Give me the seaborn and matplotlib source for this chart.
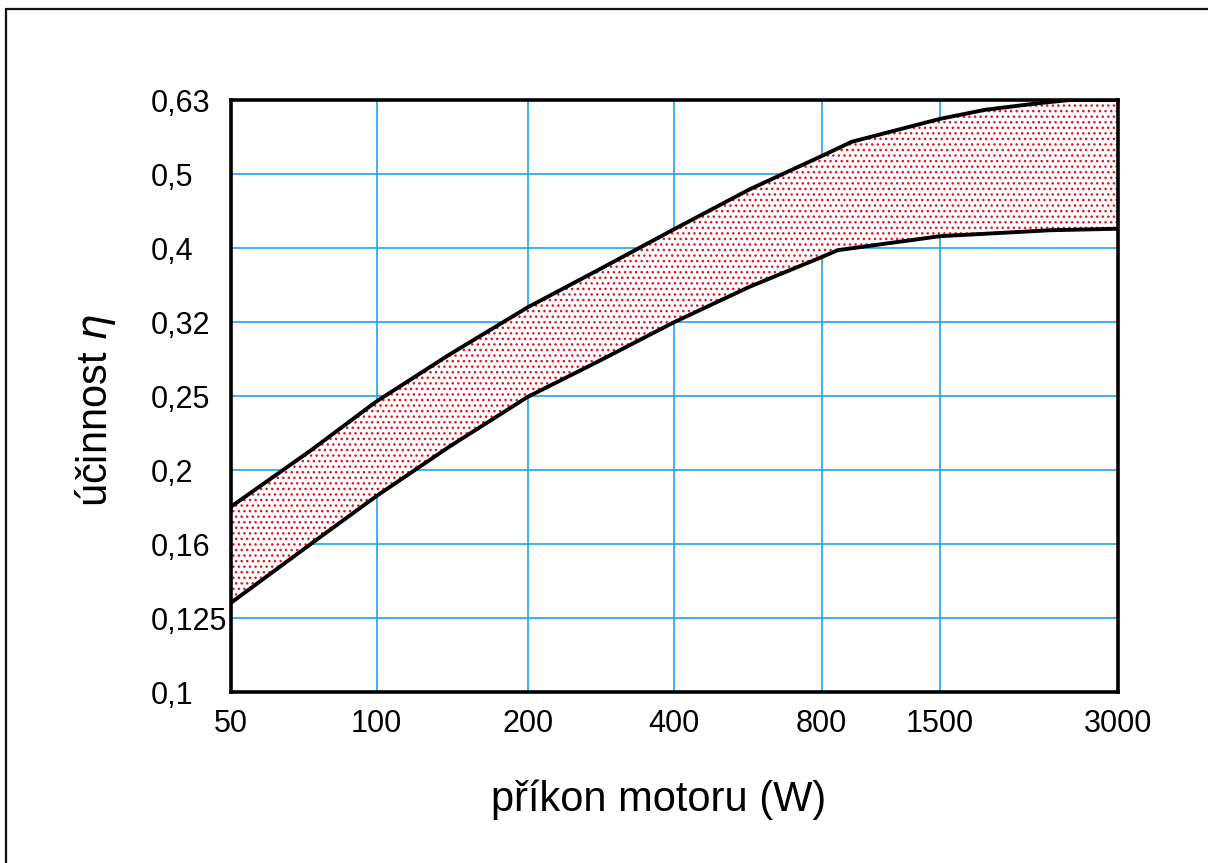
import numpy as np
import matplotlib
matplotlib.use("Agg")
import matplotlib.pyplot as plt
import seaborn as sns
from matplotlib.lines import Line2D
from matplotlib.ticker import NullLocator, NullFormatter

# ---- data ----
x_ticks = [50, 100, 200, 400, 800, 1500, 3000]
x_labels = ["50", "100", "200", "400", "800", "1500", "3000"]
y_labels = ["0,1", "0,125", "0,16", "0,2", "0,25", "0,32", "0,4", "0,5", "0,63"]

upper_w = [50, 73.6, 100, 140, 200, 282, 400, 571, 800, 938, 1500, 1788, 2214, 2487, 3000]
upper_eta = [0.178, 0.2127, 0.247, 0.286, 0.331, 0.373, 0.422, 0.478, 0.530, 0.554,
             0.595, 0.612, 0.625, 0.631, 0.631]
lower_w = [50, 73.6, 100, 140, 200, 282, 400, 571, 800, 871, 1500, 2302, 3000]
lower_eta = [0.132, 0.159, 0.184, 0.2148, 0.2505, 0.2806, 0.316, 0.353, 0.387, 0.3954,
             0.413, 0.4207, 0.4227]

# ---- style ----
sns.set_style("white")
plt.rcParams["font.family"] = ["Liberation Sans", "DejaVu Sans"]
plt.rcParams["mathtext.fontset"] = "dejavusans"
plt.rcParams["hatch.color"] = "#e8101c"
plt.rcParams["hatch.linewidth"] = 1.0
plt.rcParams["text.color"] = "black"
plt.rcParams["xtick.color"] = "black"
plt.rcParams["ytick.color"] = "black"

W, H = 1208, 863
fig = plt.figure(figsize=(W / 100, H / 100), dpi=100)
ax = fig.add_axes([231 / W, 1 - 692 / H, (1118 - 231) / W, (692 - 100) / H])

# non-uniform (hand drawn) x axis: piecewise log mapping of tick values to positions
tick_px = np.array([231, 376.5, 527.7, 674, 821.7, 940, 1118]) - 231
log_t = np.log(np.array(x_ticks, dtype=float))


def fwd(x):
    x = np.asarray(x, dtype=float)
    return np.interp(np.log(np.clip(x, 1e-9, None)), log_t, tick_px)


def inv(p):
    p = np.asarray(p, dtype=float)
    return np.exp(np.interp(p, tick_px, log_t))


ax.set_xscale("function", functions=(fwd, inv))
ax.set_yscale("log")
ax.set_xlim(50, 3000)
ax.set_ylim(0.1, 10 ** -0.2)

# band fill (stippled)
uw, ue = np.array(upper_w), np.array(upper_eta)
lw_, le = np.array(lower_w), np.array(lower_eta)
ax.fill(np.r_[uw, lw_[::-1]], np.r_[ue, le[::-1]], facecolor="white",
        edgecolor="#e8101c", hatch="...", linewidth=0, zorder=2)

sns.lineplot(x=uw, y=ue, ax=ax, color="black", linewidth=2.8, zorder=3)
sns.lineplot(x=lw_, y=le, ax=ax, color="black", linewidth=2.8, zorder=3)

# ticks
y_pos = 10 ** (np.arange(len(y_labels)) / 10 - 1)
ax.set_xticks(x_ticks, labels=x_labels)
ax.set_yticks(y_pos, labels=y_labels)
ax.yaxis.set_minor_locator(NullLocator())
ax.yaxis.set_minor_formatter(NullFormatter())
ax.xaxis.set_minor_locator(NullLocator())
ax.tick_params(axis="both", length=0, labelsize=22, labelcolor="black")
ax.tick_params(axis="x", pad=12)
ax.tick_params(axis="y", pad=58)
for lab in ax.get_yticklabels():
    lab.set_horizontalalignment("left")

ax.grid(True, color="#22a4e0", linewidth=1.2)
ax.set_axisbelow(True)
for sp in ax.spines.values():
    sp.set_visible(True)
    sp.set_color("black")
    sp.set_linewidth(2.6)
    sp.set_zorder(5)

# axis titles
fig.text(659 / W, 1 - 800 / H, "příkon motoru (W)", ha="center", va="center",
         fontsize=30, color="black")
fig.text(96 / W, 1 - 410 / H, "účinnost $\\eta$", ha="center", va="center",
         rotation=90, fontsize=30, color="black")

# outer frame (top and left visible)
fig.add_artist(Line2D([6 / W, 1], [1 - 9 / H, 1 - 9 / H], transform=fig.transFigure,
                      color="#111111", linewidth=1.6))
fig.add_artist(Line2D([6 / W, 6 / W], [0, 1 - 9 / H], transform=fig.transFigure,
                      color="#111111", linewidth=1.6))

fig.savefig("out.png", dpi=100)
